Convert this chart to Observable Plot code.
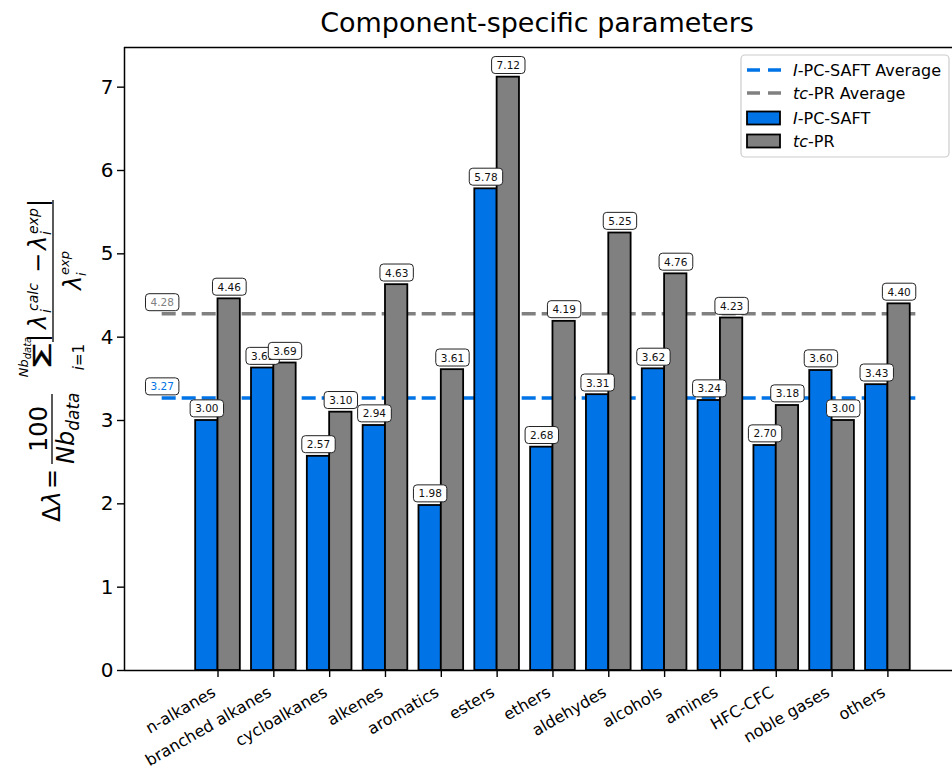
<!DOCTYPE html>
<html><head><meta charset="utf-8">
<script src="https://cdn.jsdelivr.net/npm/d3@7"></script>
<script src="https://cdn.jsdelivr.net/npm/@observablehq/plot@0.6"></script>
<style>
html,body{margin:0;padding:0;background:#fff;overflow:hidden}
#chart{position:relative;width:952px;height:769px}
</style></head><body><div id="chart"></div>
<script>
const categories = ["n-alkanes","branched alkanes","cycloalkanes","alkenes","aromatics","esters","ethers","aldehydes","alcohols","amines","HFC-CFC","noble gases","others"];
const pcsaftValues = [3.00,3.63,2.57,2.94,1.98,5.78,2.68,3.31,3.62,3.24,2.70,3.60,3.43];
const tcprValues   = [4.46,3.69,3.10,4.63,3.61,7.12,4.19,5.25,4.76,4.23,3.18,3.00,4.40];
const seriesNames  = ["I-PC-SAFT","tc-PR"];
const averageValues = [3.27, 4.28];
const yTicks = [0,1,2,3,4,5,6,7];

const seriesColors = ["#0073e6","#808080"];
const xDomain = [-1.675, 13.157];
const yDomain = [0, 7.476];
const avgExtent = [-1, 12.5];
const barHalf = 0.4;

const bars = [
  ...categories.map((c,i)=>({cat:c, i, series:seriesNames[0], value:pcsaftValues[i], x1:i-barHalf, x2:i})),
  ...categories.map((c,i)=>({cat:c, i, series:seriesNames[1], value:tcprValues[i], x1:i, x2:i+barHalf}))
];
const avgData = seriesNames.map((s,k)=>({series:s, value:averageValues[k]}));
const idx = categories.map((c,i)=>i);

const plot = Plot.plot({
  width: 952, height: 769,
  marginLeft: 124, marginRight: 0, marginTop: 47, marginBottom: 99,
  style: {fontFamily: "DejaVu Sans", background: "white", color: "black"},
  x: {domain: xDomain, axis: null},
  y: {domain: yDomain, axis: null},
  color: {domain: seriesNames, range: seriesColors},
  marks: [
    Plot.ruleY(avgData, {y: "value", x1: avgExtent[0], x2: avgExtent[1], stroke: "series", strokeWidth: 3.5, strokeDasharray: "14,6"}),
    Plot.rect(bars, {x1: "x1", x2: "x2", y1: 0, y2: "value", fill: "series", stroke: "black", strokeWidth: 1.8}),
    Plot.text(bars, {x: d => (d.x1 + d.x2) / 2, y: "value", text: d => d.value.toFixed(2), dy: -11.5, fontSize: 10.5, fill: "#111"}),
    Plot.text(avgData, {x: avgExtent[0], y: "value", text: d => d.value.toFixed(2), dy: -11, fontSize: 10.5, fill: "series"}),
    Plot.ruleX([xDomain[0]], {stroke: "black", strokeWidth: 1.5}),
    Plot.ruleY([yDomain[0], yDomain[1]], {stroke: "black", strokeWidth: 1.5}),
    Plot.axisY({ticks: yTicks, tickSize: 7, tickPadding: 4, fontSize: 20, label: null, strokeWidth: 1.4}),
    Plot.axisX({ticks: idx, tickSize: 7, tickFormat: () => "", label: null, strokeWidth: 1.4}),
    Plot.text(categories, {x: (d,i) => i, y: () => 0, text: d => d, rotate: -30, textAnchor: "end", lineAnchor: "top", dx: -7, dy: 15, fontSize: 16, fill: "black"})
  ]
});
document.getElementById("chart").appendChild(plot);

// rounded boxes behind value labels
Array.from(plot.querySelectorAll("text")).filter(t => /^\d\.\d\d$/.test(t.textContent.trim())).forEach(t => {
  const b = t.getBBox();
  const r = document.createElementNS("http://www.w3.org/2000/svg","rect");
  r.setAttribute("x", b.x - 5); r.setAttribute("y", b.y - 2.5);
  r.setAttribute("width", b.width + 10); r.setAttribute("height", b.height + 5);
  r.setAttribute("rx", 3.5); r.setAttribute("fill", "white");
  r.setAttribute("stroke", "#222"); r.setAttribute("stroke-width", 1);
  const tr = t.getAttribute("transform"); if (tr) r.setAttribute("transform", tr);
  t.parentNode.insertBefore(r, t);
});

const svg = d3.select(plot);
// title
svg.append("text").attr("x", 537).attr("y", 32).attr("text-anchor","middle")
  .attr("font-family","DejaVu Sans").attr("font-size", 27).attr("fill","black")
  .text("Component-specific parameters");

// y label (math)
const yl = svg.append("g").attr("transform","translate(52,522) rotate(-90)")
  .attr("font-family","DejaVu Sans").attr("fill","black");
function piece(u, v, parts, anchor){
  const t = yl.append("text").attr("x", u).attr("y", v).attr("text-anchor", anchor || "start");
  parts.forEach(p => {
    const s = t.append("tspan").attr("font-size", p.size).attr("font-style", p.it ? "italic" : "normal").text(p.s);
    if (p.dy) s.attr("dy", p.dy);
  });
  return t;
}
function fbar(u1, u2, v){ yl.append("line").attr("x1",u1).attr("x2",u2).attr("y1",v).attr("y2",v).attr("stroke","black").attr("stroke-width",1.3); }
piece(0, 8, [{s:"Δ", size:24},{s:"λ", size:24, it:true}]);
piece(33, 8, [{s:"=", size:24}]);
fbar(58, 128, 0);
piece(93, -5, [{s:"100", size:24}], "middle");
piece(58, 22, [{s:"Nb", size:24, it:true},{s:"data", size:17, it:true, dy:5}]);
yl.append("text").attr("transform","translate(166,-1) scale(1.9,1)").attr("text-anchor","middle")
  .attr("font-size",24).attr("stroke","black").attr("stroke-width",0.3).text("Σ");
piece(165, -24, [{s:"Nb", size:13, it:true},{s:"data", size:10, it:true, dy:3}], "middle");
piece(165, 32, [{s:"i", size:15, it:true},{s:"=1", size:15}], "middle");
fbar(180, 322, 1);
piece(180, -6, [{s:"|", size:24}]);
piece(193, -6, [{s:"λ", size:24, it:true}]);
piece(211, -14, [{s:"calc", size:14, it:true}]);
piece(209, -1, [{s:"i", size:14, it:true}]);
piece(249, -6, [{s:"−", size:24}]);
piece(272, -6, [{s:"λ", size:24, it:true}]);
piece(288, -14, [{s:"exp", size:14, it:true}]);
piece(287, -1, [{s:"i", size:14, it:true}]);
piece(315, -6, [{s:"|", size:24}]);
piece(232, 29, [{s:"λ", size:24, it:true}]);
piece(247, 17, [{s:"exp", size:13, it:true}]);
piece(246, 34, [{s:"i", size:13, it:true}]);

// legend
const lg = svg.append("g").attr("font-family","DejaVu Sans").attr("font-size",16).attr("text-anchor","start");
lg.append("rect").attr("x",741).attr("y",55).attr("width",208).attr("height",102).attr("rx",4)
  .attr("fill","white").attr("fill-opacity",0.85).attr("stroke","#cccccc").attr("stroke-width",1.2);
const rows = [
  {type:"line", color:seriesColors[0], it:"I", rest:"-PC-SAFT Average", y:70},
  {type:"line", color:seriesColors[1], it:"tc", rest:"-PR Average", y:93},
  {type:"patch", color:seriesColors[0], it:"I", rest:"-PC-SAFT", y:118},
  {type:"patch", color:seriesColors[1], it:"tc", rest:"-PR", y:141}
];
rows.forEach(r => {
  if (r.type === "line") {
    lg.append("line").attr("x1",747).attr("x2",781).attr("y1",r.y).attr("y2",r.y)
      .attr("stroke",r.color).attr("stroke-width",3.5).attr("stroke-dasharray","13,8");
  } else {
    lg.append("rect").attr("x",747).attr("y",r.y-6.5).attr("width",33).attr("height",13)
      .attr("fill",r.color).attr("stroke","black").attr("stroke-width",1.8);
  }
  const t = lg.append("text").attr("x",793).attr("y",r.y+6).attr("fill","black").attr("text-anchor","start");
  t.append("tspan").attr("font-style","italic").text(r.it);
  t.append("tspan").text(r.rest);
});
</script></body></html>
